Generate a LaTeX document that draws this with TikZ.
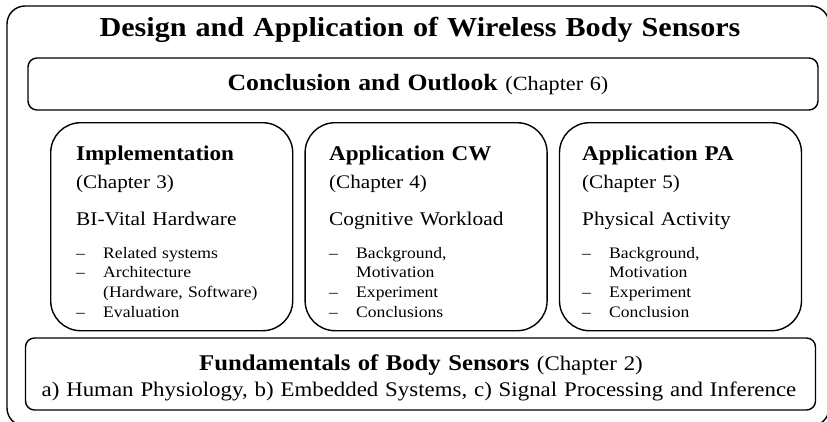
\documentclass[tikz,border=0pt]{standalone}
\usepackage{fontspec}
\setmainfont{Liberation Serif}[FakeStretch=1.1,WordSpace=1.2]
\usetikzlibrary{positioning}
\newcommand{\chapitem}[1]{\makebox[27pt][l]{--}#1}

\begin{document}
\begin{tikzpicture}[
    x=1pt,y=-1pt,
    frame/.style={draw,line width=1.4pt,rounded corners=18pt},
    band/.style={draw,line width=1.4pt,rounded corners=9pt,minimum width=790pt,inner sep=0pt},
    chapbox/.style={draw,line width=1.4pt,rounded corners=30pt,minimum width=242pt,minimum height=208pt,inner sep=0pt,anchor=north west},
    chaptext/.style={anchor=base west,align=flush left,text width=215pt,inner sep=0pt},
    label/.style={anchor=base,inner sep=0pt}
  ]
    \useasboundingbox (0,0) rectangle (827,421);
    \clip (0,0) rectangle (827,421);
    % outer frame, cut by the page edge on the right and at the bottom
    \draw[frame] (7,6) rectangle (829,426);
    \node[label,font=\fontsize{27.4}{30}\selectfont\bfseries] (title) at (420,36) {Design and Application of Wireless Body Sensors};

    % top band
    \node[band,minimum height=52pt] (outlook) at (423,84) {};
    \node[label] (outlook-text) at (418,90) {%
      {\fontsize{23.4}{26}\selectfont\textbf{Conclusion and Outlook} }{\fontsize{20.2}{24}\selectfont(Chapter 6)}};

    % the three chapter boxes
    \node[chapbox] (impl) at (50,122) {};
    \node[chapbox,right=11pt of impl] (cw) {};
    \node[chapbox,right=11pt of cw] (pa) {};

    \node[chaptext] (impl-text) at (76,160) {\spaceskip=0pt\xspaceskip=0pt
      {\fontsize{21}{21}\selectfont\bfseries Implementation\par}
      {\fontsize{19.2}{28}\selectfont (Chapter 3)\par}
      {\fontsize{19.4}{37}\selectfont BI-Vital Hardware\par}
      {\fontsize{16}{33}\selectfont \chapitem{Related systems}\par}
      {\fontsize{16}{19.7}\selectfont \chapitem{Architecture}\par
        \hspace*{27pt}(Hardware, Software)\par
        \chapitem{Evaluation}\par}
    };
    \node[chaptext] (cw-text) at (329,160) {\spaceskip=0pt\xspaceskip=0pt
      {\fontsize{21}{21}\selectfont\bfseries Application CW\par}
      {\fontsize{19.2}{28}\selectfont (Chapter 4)\par}
      {\fontsize{19.4}{37}\selectfont Cognitive Workload\par}
      {\fontsize{16}{33}\selectfont \chapitem{Background,}\par}
      {\fontsize{16}{19.7}\selectfont \hspace*{27pt}Motivation\par
        \chapitem{Experiment}\par
        \chapitem{Conclusions}\par}
    };
    \node[chaptext] (pa-text) at (582,160) {\spaceskip=0pt\xspaceskip=0pt
      {\fontsize{21}{21}\selectfont\bfseries Application PA\par}
      {\fontsize{19.2}{28}\selectfont (Chapter 5)\par}
      {\fontsize{19.4}{37}\selectfont Physical Activity\par}
      {\fontsize{16}{33}\selectfont \chapitem{Background,}\par}
      {\fontsize{16}{19.7}\selectfont \hspace*{27pt}Motivation\par
        \chapitem{Experiment}\par
        \chapitem{Conclusion}\par}
    };

    % bottom band
    \node[band,minimum height=72pt] (fund) at (420.5,374) {};
    \node[label] (fund-title) at (421,370) {%
      {\fontsize{22.5}{26}\selectfont\textbf{Fundamentals of Body Sensors} }{\fontsize{20.8}{24}\selectfont(Chapter 2)}};
    \node[label,font=\fontsize{20.8}{24}\selectfont] (fund-topics) at (419,396)
      {a) Human Physiology, b) Embedded Systems, c) Signal Processing and Inference};
  \end{tikzpicture}
\end{document}
